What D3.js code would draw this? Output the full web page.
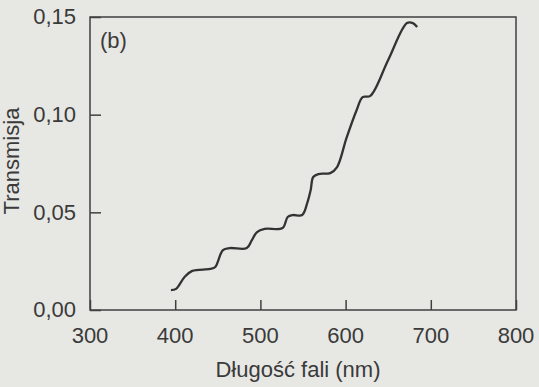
<!DOCTYPE html>
<html>
<head>
<meta charset="utf-8">
<script src="https://cdn.jsdelivr.net/npm/d3@7"></script>
<style>
  html, body { margin: 0; padding: 0; background: #e7e7e4; }
  svg { display: block; }
  text { font-family: "Liberation Sans", Arial, sans-serif; fill: #3a3a3a; }
</style>
</head>
<body>
<svg id="chart" width="539" height="387"></svg>
<script>
// wavelength (nm) and transmission
const wavelength = [395, 401, 411, 420, 441, 447, 456, 464, 484, 490, 496, 505, 526, 532, 538, 549,
                    555, 559, 562, 568, 582, 590, 601, 613, 620, 629, 650, 672, 679, 684];
const transmission = [0.0102, 0.0108, 0.0169, 0.0200, 0.0210, 0.0220, 0.0307, 0.0317, 0.0317, 0.0358,
                      0.0399, 0.0415, 0.0420, 0.0476, 0.0486, 0.0486, 0.0548, 0.0614, 0.0681, 0.0696,
                      0.0701, 0.0732, 0.0880, 0.1024, 0.1090, 0.1096, 0.1280, 0.1469, 0.1469, 0.1449];
const xTicks = [300, 400, 500, 600, 700, 800];
const yTicks = [0, 0.05, 0.10, 0.15];

const margin = { top: 17, right: 23, bottom: 77, left: 90 };
const width  = 539 - margin.left - margin.right;
const height = 387 - margin.top - margin.bottom;

const x = d3.scaleLinear().domain([300, 800]).range([0, width]);
const y = d3.scaleLinear().domain([0, 0.15]).range([height, 0]);

const svg = d3.select('#chart');
const g   = svg.append('g').attr('transform', `translate(${margin.left},${margin.top})`);

const ink = '#404040';
const fmt = d => d3.format('.2f')(d).replace('.', ',');

// inner ticks (pointing into the plot)
const xAxis = g.append('g')
    .attr('transform', `translate(0,${height})`)
    .call(d3.axisTop(x).tickValues(xTicks).tickSize(10).tickFormat(''));
const yAxis = g.append('g')
    .call(d3.axisRight(y).tickValues(yTicks).tickSize(11).tickFormat(''));
[xAxis, yAxis].forEach(a => {
    a.select('.domain').remove();
    a.selectAll('line').attr('stroke', ink).attr('stroke-width', 1.5);
});

// tick labels
g.selectAll('.xl').data(xTicks).enter().append('text')
    .attr('x', d => x(d))
    .attr('y', height + 33)
    .attr('text-anchor', 'middle')
    .style('font-size', '22px')
    .text(d => d);

g.selectAll('.yl').data(yTicks).enter().append('text')
    .attr('x', -14)
    .attr('y', d => y(d))
    .attr('dy', '0.33em')
    .attr('text-anchor', 'end')
    .style('font-size', '22px')
    .text(fmt);

// frame
g.append('rect')
    .attr('width', width)
    .attr('height', height)
    .attr('fill', 'none')
    .attr('stroke', ink)
    .attr('stroke-width', 1.5);

// curve
const pts = wavelength.map((w, i) => [w, transmission[i]]);
g.append('path')
    .datum(pts)
    .attr('fill', 'none')
    .attr('stroke', '#333')
    .attr('stroke-width', 2.3)
    .attr('stroke-linejoin', 'round')
    .attr('d', d3.line().x(d => x(d[0])).y(d => y(d[1])).curve(d3.curveCatmullRom.alpha(0.5)));

// panel label
g.append('text')
    .attr('x', 10)
    .attr('y', 31)
    .style('font-size', '22px')
    .text('(b)');

// axis titles
svg.append('text')
    .attr('x', margin.left + width / 2 - 5)
    .attr('y', 377)
    .attr('text-anchor', 'middle')
    .style('font-size', '22px')
    .text('Długość fali (nm)');

svg.append('text')
    .attr('transform', 'translate(19,161) rotate(-90)')
    .attr('text-anchor', 'middle')
    .style('font-size', '22px')
    .text('Transmisja');
</script>
</body>
</html>
